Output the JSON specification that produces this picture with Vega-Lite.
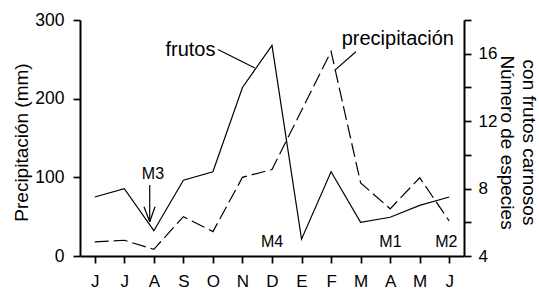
{
  "$schema": "https://vega.github.io/schema/vega-lite/v6.json",
  "width": 384,
  "height": 236,
  "autosize": {"type": "none"},
  "padding": {"left": 80, "top": 20, "right": 75, "bottom": 34},
  "config": {
    "font": "Liberation Sans",
    "view": {"stroke": null},
    "axis": {
      "domainColor": "black",
      "tickColor": "black",
      "labelColor": "black",
      "titleColor": "black",
      "domainWidth": 2,
      "tickWidth": 1.7,
      "grid": false,
      "labelOverlap": false,
      "labelFlush": false,
      "labelBound": false,
      "titleFontWeight": "normal"
    }
  },
  "encoding": {
    "x": {
      "field": "i", "type": "quantitative",
      "scale": {"domain": [-0.5, 12.5], "nice": false, "zero": false},
      "axis": {
        "title": null,
        "values": [0, 1, 2, 3, 4, 5, 6, 7, 8, 9, 10, 11, 12],
        "labelExpr": "['J','J','A','S','O','N','D','E','F','M','A','M','J'][datum.value]",
        "tickSize": 7,
        "labelPadding": 10,
        "labelFontSize": 17
      }
    }
  },
  "layer": [
    {
      "layer": [
        {
          "data": {"values": [
            {"mes": "Jun", "i": 0, "v": 18},
            {"mes": "Jul", "i": 1, "v": 20},
            {"mes": "Ago", "i": 2, "v": 8.5},
            {"mes": "Sep", "i": 3, "v": 50},
            {"mes": "Oct", "i": 4, "v": 31},
            {"mes": "Nov", "i": 5, "v": 100},
            {"mes": "Dic", "i": 6, "v": 110},
            {"mes": "Ene", "i": 7, "v": 185},
            {"mes": "Feb", "i": 8, "v": 260},
            {"mes": "Mar", "i": 9, "v": 93},
            {"mes": "Abr", "i": 10, "v": 60},
            {"mes": "May", "i": 11, "v": 99.5},
            {"mes": "Jun", "i": 12, "v": 44.5}
          ]},
          "mark": {"type": "line", "color": "black", "strokeWidth": 1.2, "strokeDash": [14, 5]},
          "encoding": {
            "y": {
              "field": "v", "type": "quantitative",
              "scale": {"domain": [0, 300], "nice": false},
              "axis": {
                "title": "Precipitación (mm)",
                "titleFontSize": 19,
                "titlePadding": 3,
                "titleY": 122,
                "values": [0, 50, 100, 150, 200, 250, 300],
                "labelExpr": "datum.value % 100 == 0 ? datum.label : ''",
                "tickSize": 7,
                "labelPadding": 9,
                "labelFontSize": 17.5
              }
            }
          }
        },
        {
          "data": {"values": [
            {"label": "frutos", "i": 3.24, "v": 254.5},
            {"label": "precipitación", "i": 10.26, "v": 268}
          ]},
          "mark": {"type": "text", "color": "black", "fontSize": 20, "align": "center", "baseline": "alphabetic"},
          "encoding": {
            "y": {"field": "v", "type": "quantitative"},
            "text": {"field": "label"}
          }
        },
        {
          "data": {"values": [
            {"label": "M3", "i": 1.97, "v": 97.6},
            {"label": "M4", "i": 6, "v": 11.8},
            {"label": "M1", "i": 10.01, "v": 11},
            {"label": "M2", "i": 11.9, "v": 11}
          ]},
          "mark": {"type": "text", "color": "black", "fontSize": 16, "align": "center", "baseline": "alphabetic"},
          "encoding": {
            "y": {"field": "v", "type": "quantitative"},
            "text": {"field": "label"}
          }
        },
        {
          "data": {"values": [
            {"i": 4.17, "v": 262.4, "i2": 5.42, "v2": 238.9},
            {"i": 8.84, "v": 259.6, "i2": 8.13, "v2": 236.3},
            {"i": 1.86, "v": 90.2, "i2": 1.86, "v2": 43.6},
            {"i": 1.667, "v": 62.6, "i2": 1.86, "v2": 43.6},
            {"i": 2.04, "v": 62.6, "i2": 1.86, "v2": 43.6}
          ]},
          "mark": {"type": "rule", "color": "black", "strokeWidth": 1.2},
          "encoding": {
            "y": {"field": "v", "type": "quantitative"},
            "x2": {"field": "i2"},
            "y2": {"field": "v2"}
          }
        }
      ]
    },
    {
      "data": {"values": [
        {"i": 0, "f": 7.5},
        {"i": 1, "f": 8},
        {"i": 2, "f": 5.5},
        {"i": 3, "f": 8.5},
        {"i": 4, "f": 9},
        {"i": 5, "f": 14},
        {"i": 6, "f": 16.5},
        {"i": 7, "f": 5},
        {"i": 8, "f": 9},
        {"i": 9, "f": 6},
        {"i": 10, "f": 6.3},
        {"i": 11, "f": 7},
        {"i": 12, "f": 7.5}
      ]},
      "mark": {"type": "line", "color": "black", "strokeWidth": 1.2},
      "encoding": {
        "y": {
          "field": "f", "type": "quantitative",
          "scale": {"domain": [4, 18], "nice": false, "zero": false},
          "axis": {
            "orient": "right",
            "title": ["con frutos carnosos", "Número de especies"],
            "titleFontSize": 19,
            "titleLineHeight": 22,
            "titlePadding": 0,
            "titleY": 122,
            "values": [4, 6, 8, 10, 12, 14, 16, 18],
            "labelExpr": "(datum.value % 4 == 0 && datum.value < 18) ? datum.label : ''",
            "tickSize": 7,
            "labelPadding": 7,
            "labelFontSize": 17
          }
        }
      }
    }
  ],
  "resolve": {"scale": {"y": "independent"}}
}
